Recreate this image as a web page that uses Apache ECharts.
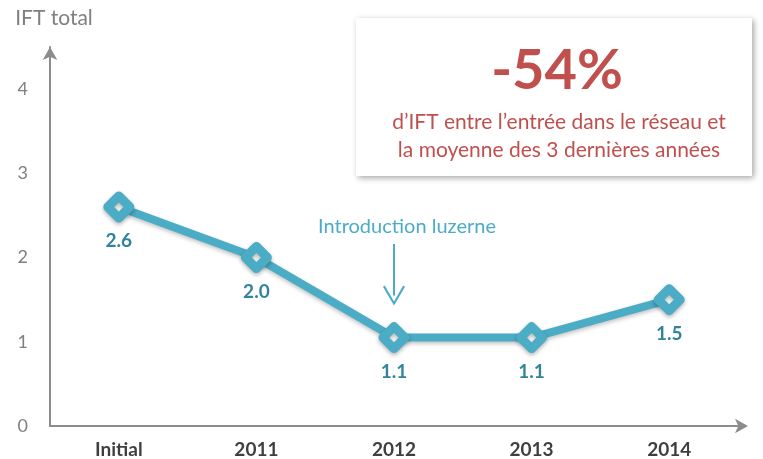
<!DOCTYPE html>
<html>
<head>
<meta charset="utf-8">
<script src="https://cdn.jsdelivr.net/npm/echarts@6/dist/echarts.min.js"></script>
<style>
  html, body { margin: 0; padding: 0; background: #fff; }
  #chart { width: 763px; height: 459px; }
</style>
</head>
<body>
<div id="chart"></div>
<script>
const categories = ['Initial', '2011', '2012', '2013', '2014']
const values = [2.6, 2.0, 1.05, 1.05, 1.5]
const valueLabels = ['2.6', '2.0', '1.1', '1.1', '1.5']
const arrowFrom = ['2012', 2.16]
const arrowTo = ['2012', 1.55]

const teal = '#4bacc6'
const red = '#c0504d'
const font = 'Lato, "Open Sans", sans-serif'

// open chevron pointing up, rotated by the markLine to follow the arrow
const chevron = 'path://M10,0 L20,16.6 L18.4,17.8 L10,3.6 L1.6,17.8 L0,16.6 Z'

const chart = echarts.init(document.getElementById('chart'))

chart.setOption({
  animation: false,
  grid: { left: 50, right: 25, top: 47, bottom: 31 },
  xAxis: {
    type: 'category',
    data: categories,
    boundaryGap: true,
    axisLine: {
      lineStyle: { color: '#8c8c8c', width: 2 },
      symbol: ['none', 'arrow'],
      symbolSize: [11, 13],
      symbolOffset: [0, 10]
    },
    axisTick: { show: false },
    axisLabel: { color: '#3f3f3f', fontSize: 19, fontWeight: 'bold', fontFamily: font, margin: 14 }
  },
  yAxis: {
    type: 'value',
    min: 0,
    max: 4.5,
    interval: 1,
    name: 'IFT total',
    nameLocation: 'end',
    nameGap: 18,
    nameTextStyle: { color: '#7f7f7f', fontSize: 21, fontFamily: font, align: 'center', padding: [0, 0, 0, 8] },
    axisLine: {
      show: true,
      lineStyle: { color: '#8c8c8c', width: 2 },
      symbol: ['none', 'arrow'],
      symbolSize: [11, 13]
    },
    axisTick: { show: false },
    splitLine: { show: false },
    axisLabel: { color: '#7f7f7f', fontSize: 18, fontFamily: font, margin: 22, showMaxLabel: false }
  },
  series: [{
    type: 'line',
    data: values,
    symbol: 'diamond',
    symbolSize: 22,
    lineStyle: {
      color: teal, width: 8,
      shadowBlur: 4, shadowColor: 'rgba(0,0,0,0.25)', shadowOffsetY: 2
    },
    itemStyle: {
      color: '#fff', borderColor: teal, borderWidth: 9, borderJoin: 'round',
      shadowBlur: 4, shadowColor: 'rgba(0,0,0,0.3)', shadowOffsetY: 2
    },
    label: {
      show: true,
      position: 'bottom',
      distance: 9,
      color: '#31849b',
      fontSize: 19,
      fontWeight: 'bold',
      fontFamily: font,
      formatter: p => valueLabels[p.dataIndex]
    },
    markLine: {
      silent: true,
      symbol: ['none', chevron],
      symbolSize: [22, 20],
      lineStyle: { color: teal, width: 2, type: 'solid' },
      label: {
        show: true,
        position: 'start',
        distance: 8,
        offset: [13, 0],
        formatter: 'Introduction luzerne',
        color: teal,
        fontSize: 20,
        fontFamily: font
      },
      data: [[{ coord: arrowFrom }, { coord: arrowTo }]]
    }
  }],
  graphic: [
    {
      type: 'rect',
      left: 356, top: 18,
      shape: { width: 396, height: 158 },
      style: { fill: '#fff', shadowBlur: 6, shadowColor: 'rgba(0,0,0,0.35)', shadowOffsetX: 2, shadowOffsetY: 2 }
    },
    {
      type: 'text',
      x: 557, y: 71,
      style: {
        text: '-54%', fill: red, fontSize: 56, fontWeight: 'bold', fontFamily: font,
        align: 'center', verticalAlign: 'middle'
      }
    },
    {
      type: 'text',
      x: 559, y: 136,
      style: {
        text: 'd\u2019IFT entre l\u2019entr\u00e9e dans le r\u00e9seau et\nla moyenne des 3 derni\u00e8res ann\u00e9es',
        fill: red, fontSize: 21, fontFamily: font, lineHeight: 28,
        align: 'center', verticalAlign: 'middle'
      }
    }
  ]
})
</script>
</body>
</html>
